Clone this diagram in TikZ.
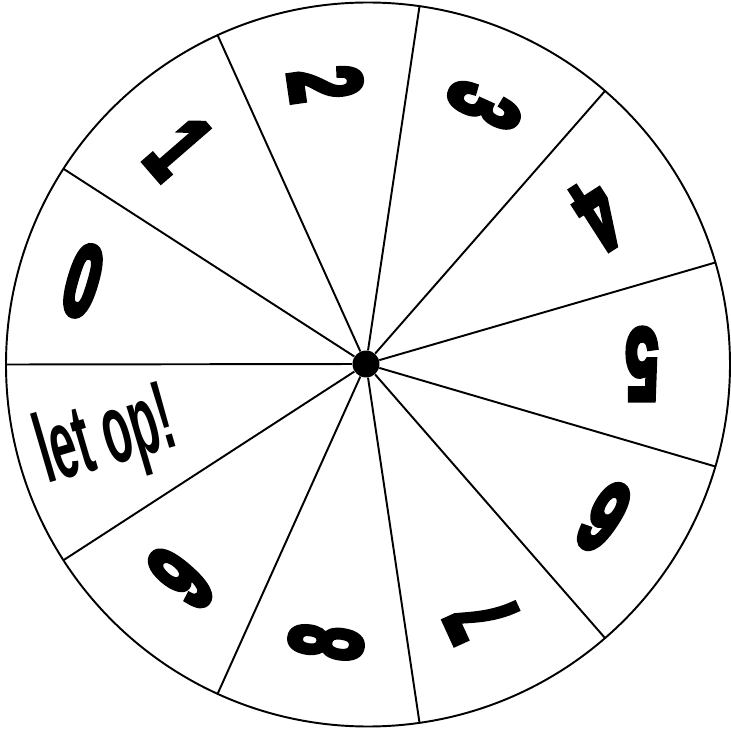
\documentclass[tikz,border=0pt]{standalone}
\usepackage{fontspec}
\setmainfont{Liberation Sans}
\newfontfamily\wheelfont[BoldFeatures={FakeBold=6}]{Liberation Sans}
\usetikzlibrary{calc}

\begin{document}
\begin{tikzpicture}[
  x=0.02cm, y=0.02cm,
  rim/.style={line width=1.1pt},
  spoke/.style={line width=1.1pt},
  digit/.style={font=\wheelfont\bfseries\fontsize{58}{58}\selectfont, inner sep=0pt, xscale=0.58},
  warn/.style={font=\bfseries\fontsize{56}{56}\selectfont, inner sep=0pt, xscale=0.47},
]
\useasboundingbox (0,0) rectangle (731,735);
\coordinate (mid) at (368,370.5);
\node[circle, fill, inner sep=0pt, minimum size=0.54cm] (hub) at (366,371) {};

% rim and spokes
\draw[rim] (mid) circle [radius=362];
\foreach \k in {0,...,10}
  \draw[spoke] (hub) -- ($(mid)+({180-\k*360/11}:362)$);

% numbers
\foreach \txt/\r [count=\k from 0] in {0/295,1/286,2/283,3/284,4/276,5/276,6/283,7/279,8/281,9/283}{
  \pgfmathsetmacro\a{180-(\k+0.5)*360/11}
  \node[rotate=\a-180, digit] (d\k) at ($(hub.center)+(\a:\r)$) {\txt};
}
\node[rotate=16.36, warn] (warning) at ($(hub.center)+(196.36:270)$) {let op!};
\end{tikzpicture}
\end{document}
